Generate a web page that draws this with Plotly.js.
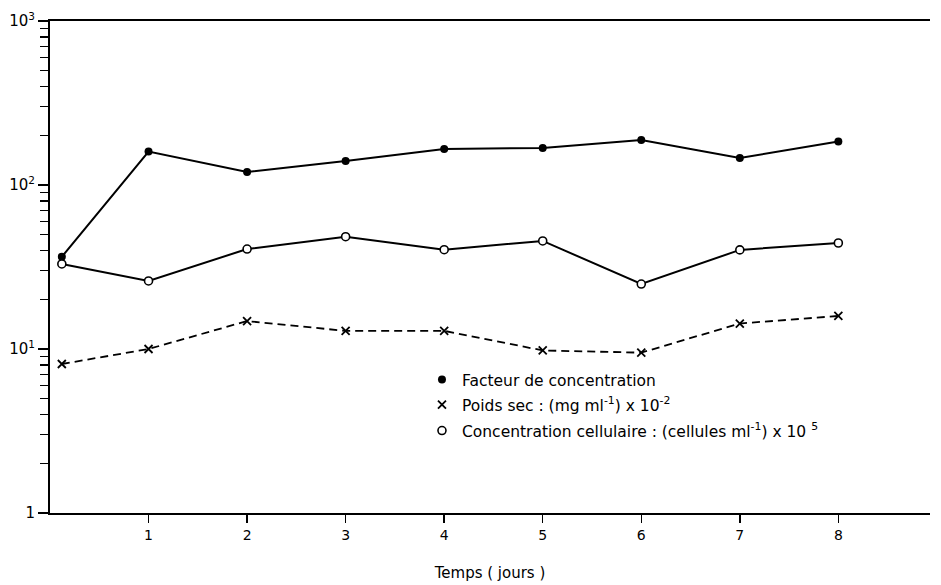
<!DOCTYPE html>
<html>
<head>
<meta charset="utf-8">
<script src="https://cdn.plot.ly/plotly-3.0.1.min.js"></script>
<style>html,body{margin:0;padding:0;background:#fff;}#chart{width:941px;height:585px;}</style>
</head>
<body>
<div id="chart"></div>
<script>
// Data
const days = [0.12, 1, 2, 3, 4, 5, 6, 7, 8];
const facteurConcentration = [36.5, 160, 120, 140, 166, 168, 188, 146, 184];
const poidsSec = [8.1, 10.0, 14.8, 12.9, 12.9, 9.8, 9.5, 14.3, 15.9];
const concentrationCellulaire = [33, 26, 40.7, 48.4, 40.3, 45.6, 24.9, 40.2, 44.3];

const xTickVals = [1, 2, 3, 4, 5, 6, 7, 8];
const xTickText = ['1', '2', '3', '4', '5', '6', '7', '8'];
const yTickVals = [1, 10, 100, 1000];
const yTickText = ['1', '10<sup>1</sup>', '10<sup>2</sup>', '10<sup>3</sup>'];
const yMinorVals = [2,3,4,5,6,7,8,9,20,30,40,50,60,70,80,90,200,300,400,500,600,700,800,900];

const legendNames = [
  'Facteur de concentration',
  'Poids sec : (mg ml<sup>-1</sup>) x 10<sup>-2</sup>',
  'Concentration cellulaire : (cellules ml<sup>-1</sup>) x 10 <sup>5</sup>'
];

const FONT = 'DejaVu Sans, Arial, sans-serif';
const filledMarker = {symbol: 'circle', size: 8, color: '#000'};
const crossMarker = {symbol: 'x-thin-open', size: 8, color: '#000', line: {color: '#000', width: 1.8}};
const openMarker = {symbol: 'circle', size: 8, color: '#fff', line: {color: '#000', width: 1.6}};

const traces = [
  {x: days, y: facteurConcentration, mode: 'lines+markers', line: {color: '#000', width: 2}, marker: filledMarker, showlegend: false},
  {x: days, y: concentrationCellulaire, mode: 'lines+markers', line: {color: '#000', width: 2}, marker: openMarker, showlegend: false},
  {x: days, y: poidsSec, mode: 'lines+markers', line: {color: '#000', width: 1.8, dash: '8px,5px'}, marker: crossMarker, showlegend: false},
  // legend-only entries
  {x: [null], y: [null], mode: 'markers', marker: filledMarker, name: legendNames[0], legend: 'legend'},
  {x: [null], y: [null], mode: 'markers', marker: crossMarker, name: legendNames[1], legend: 'legend2'},
  {x: [null], y: [null], mode: 'markers', marker: openMarker, name: legendNames[2], legend: 'legend3'}
];

const legendBase = {x: 0.4227, xanchor: 'left', yanchor: 'middle', bgcolor: 'rgba(0,0,0,0)', borderwidth: 0,
  font: {family: FONT, size: 15.5, color: '#000'}};

const layout = {
  width: 941, height: 585,
  margin: {l: 50, r: 11, t: 21, b: 72},
  paper_bgcolor: '#fff', plot_bgcolor: '#fff',
  font: {family: FONT, size: 13, color: '#000'},
  xaxis: {
    range: [0, 8.93], showgrid: false, zeroline: false,
    showline: true, linecolor: '#000', linewidth: 2, mirror: true,
    ticks: 'outside', ticklen: 8, tickwidth: 1.5, tickcolor: '#000',
    tickmode: 'array', tickvals: xTickVals, ticktext: xTickText,
    tickfont: {family: FONT, size: 14, color: '#000'},
    title: {text: 'Temps ( jours )', font: {family: FONT, size: 15, color: '#000'}, standoff: 26}
  },
  yaxis: {
    type: 'log', range: [0, 3], showgrid: false, zeroline: false,
    showline: true, linecolor: '#000', linewidth: 2,
    ticks: 'outside', ticklen: 10, tickwidth: 1.5, tickcolor: '#000',
    tickmode: 'array', tickvals: yTickVals, ticktext: yTickText,
    tickfont: {family: FONT, size: 15, color: '#000'},
    minor: {tickmode: 'array', tickvals: yMinorVals, ticks: 'outside', ticklen: 8, tickwidth: 1.3, tickcolor: '#000', showgrid: false}
  },
  legend: Object.assign({}, legendBase, {y: 0.2703}),
  legend2: Object.assign({}, legendBase, {y: 0.2195}),
  legend3: Object.assign({}, legendBase, {y: 0.1667})
};

Plotly.newPlot('chart', traces, layout, {staticPlot: true, displayModeBar: false});
</script>
</body>
</html>
